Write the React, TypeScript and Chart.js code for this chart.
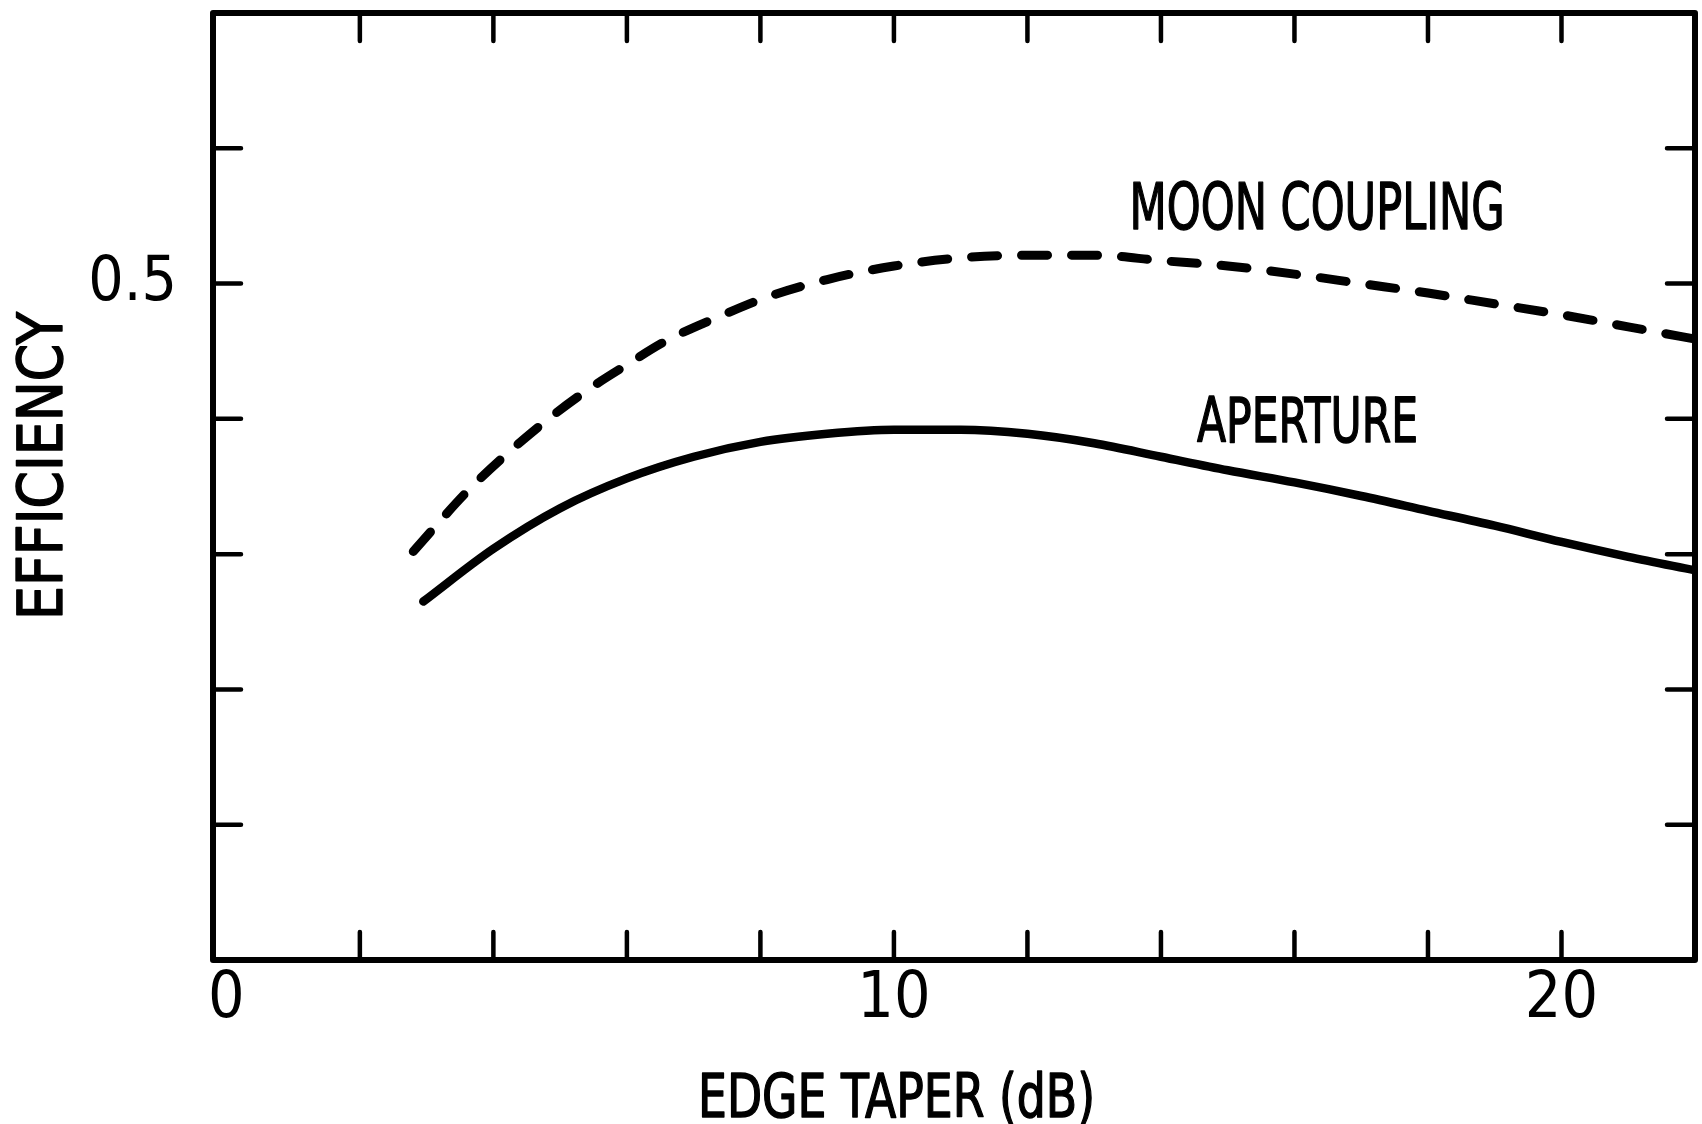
import React, { useEffect, useRef } from "react";
import { Chart, registerables } from "chart.js";

Chart.register(...registerables);

// ---- data ----
const TAPER_MOON = [2.8, 3.6, 4.2, 4.8, 5.4, 6.0, 6.6, 7.4, 8.1, 9.0, 10.0, 11.0, 12.0, 13.0, 14.0, 15.0, 16.0, 17.0, 18.0, 19.0, 20.0, 21.0, 22.0];
const MOON_COUPLING = [0.302, 0.346, 0.374, 0.399, 0.421, 0.44, 0.458, 0.476, 0.49, 0.503, 0.513, 0.519, 0.521, 0.521, 0.517, 0.513, 0.507, 0.5, 0.493, 0.485, 0.477, 0.468, 0.459];
const TAPER_APERTURE = [2.95, 4.0, 5.0, 6.0, 7.0, 8.0, 9.0, 10.0, 11.0, 12.0, 13.0, 14.0, 15.0, 16.0, 17.0, 18.0, 19.0, 20.0, 21.0, 22.0];
const APERTURE = [0.265, 0.304, 0.334, 0.356, 0.372, 0.383, 0.389, 0.392, 0.392, 0.389, 0.382, 0.372, 0.362, 0.353, 0.343, 0.332, 0.321, 0.309, 0.298, 0.288];

const X_TICKS = [0, 2, 4, 6, 8, 10, 12, 14, 16, 18, 20, 22];
const X_TICK_LABELS = ["0", "", "", "", "", "10", "", "", "", "", "20", ""];
const Y_TICKS = [0, 0.1, 0.2, 0.3, 0.4, 0.5, 0.6, 0.7];
const Y_TICK_LABELS = ["", "", "", "", "", "0.5", "", ""];

const X_TITLE = "EDGE TAPER (dB)";
const Y_TITLE = "EFFICIENCY";
const CURVE_LABELS = ["MOON COUPLING", "APERTURE"];

// annotation anchors (data coordinates of each label's left baseline)
const CURVE_LABEL_X = [13.53, 14.54];
const CURVE_LABEL_Y = [0.54, 0.383];

const FONT = '"Liberation Sans Narrow", "DejaVu Sans Condensed", "Liberation Sans", "Noto Sans", sans-serif';

function fitText(
  ctx: CanvasRenderingContext2D,
  text: string,
  x: number,
  y: number,
  size: number,
  width: number,
  align: CanvasTextAlign,
  rotate = 0
) {
  ctx.save();
  ctx.font = `${size}px ${FONT}`;
  const w = ctx.measureText(text).width;
  const s = width / w;
  ctx.translate(x, y);
  if (rotate) ctx.rotate(rotate);
  ctx.scale(s, 1);
  ctx.textAlign = align;
  ctx.textBaseline = "alphabetic";
  ctx.fillStyle = "#000";
  ctx.strokeStyle = "#000";
  ctx.lineWidth = 1.4;
  ctx.lineJoin = "round";
  ctx.fillText(text, 0, 0);
  ctx.strokeText(text, 0, 0);
  ctx.restore();
}

const framePlugin = {
  id: "frame",
  afterDatasetsDraw(chart: any) {
    const { ctx, chartArea: a, scales } = chart;
    const xs = scales.x;
    const ys = scales.y;
    ctx.save();
    ctx.strokeStyle = "#000";
    ctx.lineCap = "round";
    ctx.lineWidth = 4.5;
    const TL = 28;
    ctx.beginPath();
    X_TICKS.forEach((v) => {
      if (v <= 0 || v >= 22) return;
      const px = xs.getPixelForValue(v);
      ctx.moveTo(px, a.bottom);
      ctx.lineTo(px, a.bottom - TL);
      ctx.moveTo(px, a.top);
      ctx.lineTo(px, a.top + TL);
    });
    Y_TICKS.forEach((v) => {
      if (v <= 0.0001 || v >= 0.6999) return;
      const py = ys.getPixelForValue(v);
      ctx.moveTo(a.left, py);
      ctx.lineTo(a.left + TL, py);
      ctx.moveTo(a.right, py);
      ctx.lineTo(a.right - TL, py);
    });
    ctx.stroke();
    ctx.lineWidth = 6;
    ctx.lineJoin = "round";
    ctx.strokeRect(a.left, a.top, a.right - a.left, a.bottom - a.top);
    ctx.restore();
  },
  afterDraw(chart: any) {
    const { ctx, scales } = chart;
    const xs = scales.x;
    const ys = scales.y;
    // curve labels
    fitText(ctx, CURVE_LABELS[0], xs.getPixelForValue(CURVE_LABEL_X[0]), ys.getPixelForValue(CURVE_LABEL_Y[0]), 64, 375, "left");
    fitText(ctx, CURVE_LABELS[1], xs.getPixelForValue(CURVE_LABEL_X[1]), ys.getPixelForValue(CURVE_LABEL_Y[1]), 63, 221, "left");
    // axis titles
    fitText(ctx, X_TITLE, 698, 1117, 61, 397, "left");
    fitText(ctx, Y_TITLE, 62, 466, 63, 308, "center", -Math.PI / 2);
  },
};

export default function App() {
  const ref = useRef<HTMLCanvasElement | null>(null);

  useEffect(() => {
    document.body.style.margin = "0";
    document.body.style.background = "#fff";
    const canvas = ref.current;
    if (!canvas) return;
    const chart = new Chart(canvas, {
      type: "line",
      data: {
        datasets: [
          {
            label: CURVE_LABELS[0],
            data: TAPER_MOON.map((x, i) => ({ x, y: MOON_COUPLING[i] })),
            borderColor: "#000",
            borderWidth: 9,
            borderDash: [26, 24],
            borderCapStyle: "round",
            borderJoinStyle: "round",
            pointRadius: 0,
            cubicInterpolationMode: "monotone",
            fill: false,
          },
          {
            label: CURVE_LABELS[1],
            data: TAPER_APERTURE.map((x, i) => ({ x, y: APERTURE[i] })),
            borderColor: "#000",
            borderWidth: 8.5,
            borderCapStyle: "round",
            borderJoinStyle: "round",
            pointRadius: 0,
            cubicInterpolationMode: "monotone",
            fill: false,
          },
        ],
      },
      options: {
        animation: false,
        responsive: true,
        maintainAspectRatio: false,
        events: [],
        layout: { padding: { top: 13, right: 7, left: 0, bottom: 0 } },
        plugins: {
          legend: { display: false },
          tooltip: { enabled: false },
        },
        scales: {
          x: {
            type: "linear",
            min: -0.2,
            max: 22,
            grid: { display: false, drawTicks: false },
            border: { display: false },
            afterBuildTicks: (scale: any) => {
              scale.ticks = X_TICKS.map((v) => ({ value: v }));
            },
            afterFit: (scale: any) => {
              scale.height = 164;
              scale.paddingLeft = 0;
              scale.paddingRight = 0;
            },
            ticks: {
              autoSkip: false,
              maxRotation: 0,
              padding: 2,
              color: "#000",
              font: { family: FONT, size: 64 },
              callback: (v: any) => {
                const i = X_TICKS.findIndex((t) => Math.abs(t - Number(v)) < 1e-6);
                return i >= 0 && X_TICK_LABELS[i] ? X_TICK_LABELS[i] : null;
              },
            },
          },
          y: {
            type: "linear",
            min: 0,
            max: 0.7,
            grid: { display: false, drawTicks: false },
            border: { display: false },
            afterBuildTicks: (scale: any) => {
              scale.ticks = Y_TICKS.map((v) => ({ value: v }));
            },
            afterFit: (scale: any) => {
              scale.width = 213;
              scale.paddingTop = 0;
              scale.paddingBottom = 0;
            },
            ticks: {
              autoSkip: false,
              padding: 36,
              color: "#000",
              font: { family: FONT, size: 62 },
              callback: (v: any) => {
                const i = Y_TICKS.findIndex((t) => Math.abs(t - Number(v)) < 1e-6);
                return i >= 0 && Y_TICK_LABELS[i] ? Y_TICK_LABELS[i] : null;
              },
            },
          },
        },
      },
      plugins: [framePlugin],
    } as any);
    return () => chart.destroy();
  }, []);

  return (
    <div style={{ position: "relative", width: 1702, height: 1124, background: "#fff" }}>
      <canvas ref={ref} />
    </div>
  );
}
